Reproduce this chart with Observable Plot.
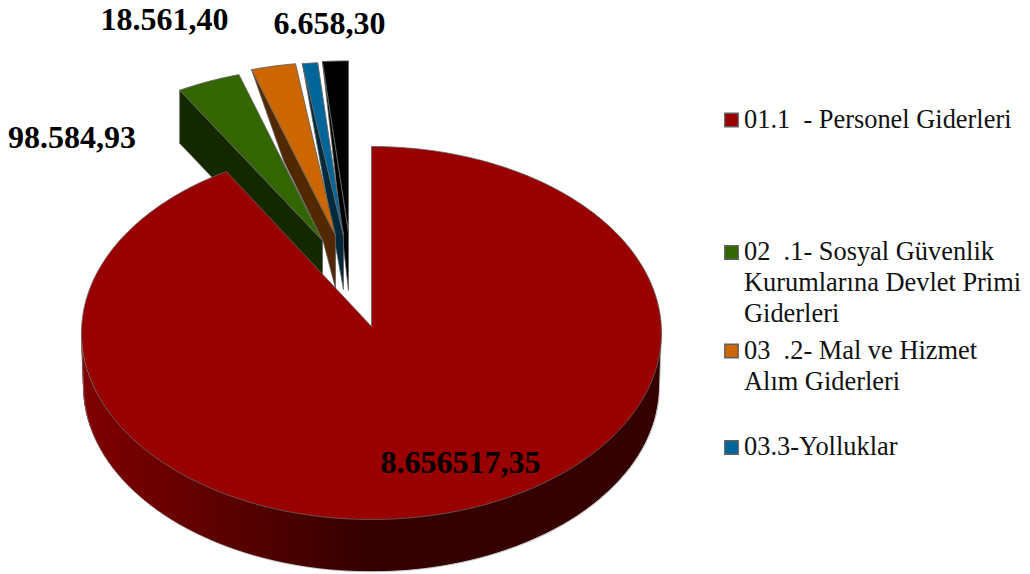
<!DOCTYPE html>
<html>
<head>
<meta charset="utf-8">
<style>
html,body{margin:0;padding:0;background:#fff}
svg text{white-space:pre}
</style>
<script src="https://cdn.jsdelivr.net/npm/d3@7"></script>
<script src="https://cdn.jsdelivr.net/npm/@observablehq/plot@0.6"></script>
</head>
<body>
<div id="chart"></div>
<script>
// Data
const categories = ["01.1  - Personel Giderleri", "02  .1- Sosyal Güvenlik\nKurumlarına Devlet Primi\nGiderleri", "03  .2- Mal ve Hizmet\nAlım Giderleri", "03.3-Yolluklar", ""];
const sweepDegrees = [330, 13, 9, 3, 5];
const valueLabels = ["8.656517,35", "98.584,93", "18.561,40", "6.658,30"];

// Styles and layout
const topColors  = ["#990000", "#336600", "#cc6600", "#006699", "#000000"];
const wallColors = ["#340000", "#142800", "#522800", "#00293d", "#000000"];
const W = 1030, H = 574;
const cx = 371, cy = 332.5, rx = 290, ry = 186.5;
const depth = 53.5 / ry, shrink = 0.993;
const sliceLayout = [
  {ax: 371, ay: 326, kx: 1, ky: 1, drop: 0, rimDrop: 0, rimOnCenter: true},
  {ax: 322, ay: 240, kx: .985, ky: .93, drop: 53, rimDrop: 53},
  {ax: 335, ay: 235, kx: .99, ky: .93, drop: 53, rimDrop: 0, bend: [[323, 242], [283, 160]]},
  {ax: 343, ay: 235, kx: 1.02, ky: .93, drop: 54, rimDrop: 0},
  {ax: 348, ay: 232, kx: 1.03, ky: .92, drop: 58, rimDrop: 0}
];
const rad = d3.scaleLinear().domain([0, 180]).range([0, Math.PI]);

// slice angles derived from the sweeps
const ends = d3.cumsum(sweepDegrees);
const slices = sweepDegrees.map((s, i) => {
  const L = sliceLayout[i];
  const a0 = i ? ends[i - 1] : 0, a1 = ends[i];
  const ox = (L.ax - cx) / rx, oy = (cy - L.ay) / ry;
  const rimY = L.rimOnCenter ? 0 : oy;
  const rim = deg => ({x: ox + L.kx * Math.sin(rad(deg)), y: rimY + L.ky * Math.cos(rad(deg))});
  const n = Math.max(2, Math.ceil(s));
  const arc = d3.range(n + 1).map(j => rim(a0 + (a1 - a0) * j / n));
  const apex = {x: ox, y: oy};
  const apexLow = {x: ox, y: oy - L.drop / ry};
  const top = [apex, ...arc, apex];
  const bend = (L.bend || []).map(([px, py]) => ({x: (px - cx) / rx, y: (cy - py) / ry}));
  const wallPts = L.rimDrop
    ? [arc[0], apex, apexLow, {x: arc[0].x, y: arc[0].y - L.rimDrop / ry}, arc[0]]
    : [arc[0], apex, apexLow, ...bend, arc[0]];
  return {top, wall: wallPts, top_color: topColors[i], wall_color: wallColors[i]};
});

// outer wall of the big slice, strips with a shade that follows x.
// Each strip runs on under the next one so no seam shows.
const shade = d3.scaleLinear().domain([-1, 0]).range(["#800000", "#340000"]).clamp(true).interpolate(d3.interpolateRgb);
const strips = [];
const outerLow = [];
const step = 2;
for (let deg = 90; deg < 270; deg += step) {
  const a = rad(deg), b = rad(Math.min(deg + 2 * step, 270));
  const col = shade((Math.sin(rad(deg)) + Math.sin(rad(deg + step))) / 2);
  strips.push({z: deg, x1: Math.sin(a), y1: Math.cos(a), x2: shrink * Math.sin(a), y2: shrink * Math.cos(a) - depth, col});
  strips.push({z: deg, x1: Math.sin(b), y1: Math.cos(b), x2: shrink * Math.sin(b), y2: shrink * Math.cos(b) - depth, col});
  outerLow.push({x: shrink * Math.sin(a), y: shrink * Math.cos(a) - depth});
}
outerLow.push({x: shrink * Math.sin(rad(270)), y: shrink * Math.cos(rad(270)) - depth});
outerLow.unshift({x: 1, y: 0});
outerLow.push({x: -1, y: 0});

const edge = "#636363";
const serif = "'Liberation Serif','Times New Roman',serif";

const wallMarks = [
  Plot.area(strips, {x1: "x1", y1: "y1", x2: "x2", y2: "y2", z: "z", fill: "col"}),
  Plot.line(outerLow, {x: "x", y: "y", stroke: "#8a8a8a", strokeWidth: 0.6})
];

// back to front: black, blue, orange, green, big slice
const sliceMarks = [4, 3, 2, 1].flatMap(i => [
  Plot.line(slices[i].wall, {x: "x", y: "y", fill: slices[i].wall_color, stroke: edge, strokeWidth: 0.8, curve: "linear"}),
  Plot.line(slices[i].top, {x: "x", y: "y", fill: slices[i].top_color, stroke: edge, strokeWidth: 0.9, curve: "linear"})
]);
const mainTop = Plot.line(slices[0].top, {x: "x", y: "y", fill: slices[0].top_color, stroke: edge, strokeWidth: 0.8, curve: "linear"});

const labelPos = [[380, 472], [7.5, 147], [100, 29.5], [273, 33]];
const labelMarks = valueLabels.map((t, i) => Plot.text([t], {
  text: d => d, frameAnchor: "top-left", dx: labelPos[i][0], dy: labelPos[i][1],
  textAnchor: "start", lineAnchor: "bottom", fontFamily: serif, fontWeight: "bold", fontSize: 32, fill: "#000"
}));

const legendRows = [119.5, 252, 350.5, 447];
const legendMarks = legendRows.flatMap((y, i) => [
  Plot.dot([categories[i]], {frameAnchor: "top-left", dx: 731, dy: y, symbol: "square", r: 7.6, fill: topColors[i], stroke: "#5f5f5f", strokeWidth: 1.3}),
  Plot.text([categories[i]], {
    text: d => d, frameAnchor: "top-left", dx: 743.5, dy: y - 14,
    textAnchor: "start", lineAnchor: "top", lineHeight: 1.17, fontFamily: serif, fontSize: 26.4, fill: "#111"
  })
]);

const chart = Plot.plot({
  width: W, height: H,
  marginTop: 0, marginRight: 0, marginBottom: 0, marginLeft: 0,
  style: {background: "#fff"},
  x: {axis: null, domain: [-cx / rx, (W - cx) / rx]},
  y: {axis: null, domain: [(cy - H) / ry, cy / ry]},
  color: {type: "identity"},
  marks: [...sliceMarks, ...wallMarks, mainTop, ...labelMarks, ...legendMarks]
});
document.getElementById("chart").append(chart);
</script>
</body>
</html>
